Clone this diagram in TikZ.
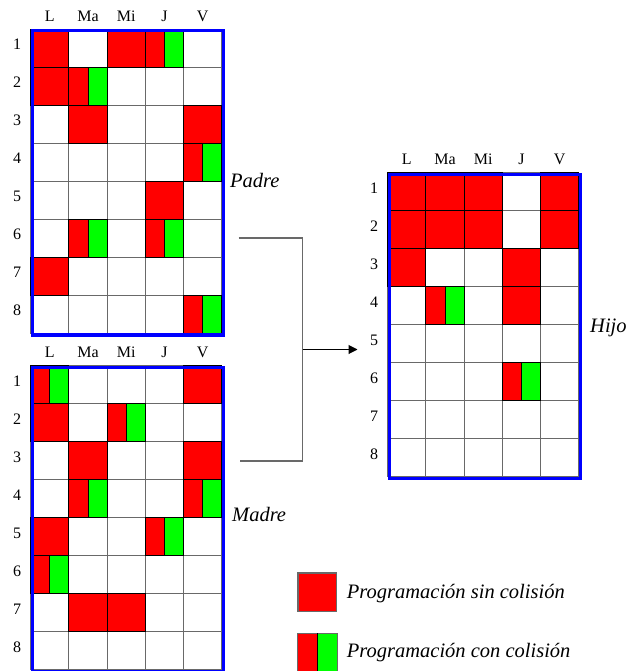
\documentclass[tikz,border=0pt]{standalone}
\usepackage{fontspec}
\setmainfont{Liberation Serif}
\usetikzlibrary{arrows.meta}
\definecolor{cred}{RGB}{255,0,0}
\definecolor{cgreen}{RGB}{0,255,0}
\definecolor{cblue}{RGB}{0,0,255}
\definecolor{lgray}{RGB}{105,105,105}
\tikzset{
 gridline/.style={draw=lgray, line width=0.9pt, fill=white},
 redcell/.style={draw=black, line width=0.9pt, fill=cred},
 cellline/.style={draw=black, line width=0.9pt},
 frame/.style={draw=cblue, line width=3.2pt, inner sep=0pt, minimum width=191pt, minimum height=304pt, anchor=north west},
 hdr/.style={font=\fontsize{16}{18}\selectfont, inner sep=0pt, anchor=base},
 lbl/.style={font=\fontsize{20.5}{24}\selectfont\itshape, inner sep=0pt, anchor=base west},
 bracket/.style={draw=lgray, line width=1.2pt},
 arrowline/.style={draw=black, line width=1pt, -{Triangle[length=9pt,width=9pt]}},
 legbox/.style={draw=lgray, line width=1.3pt, inner sep=0pt, minimum width=38.7pt, minimum height=38.7pt, anchor=north west},
}
\newcommand{\cw}{38.2}
\newcommand{\rh}{38}
% name, x0, y0, red cells (col/row), collision cells (col/row)
\newcommand{\schedgrid}[5]{%
 \begin{scope}[shift={(#2,#3)}]
  \foreach \c in {0,...,4}{\foreach \r in {0,...,7}{%
    \draw[gridline] ({\c*\cw},{\r*\rh}) rectangle ++(\cw,\rh);}}
  \foreach \c/\r in {#4}{%
    \draw[redcell] ({(\c-1)*\cw},{(\r-1)*\rh}) rectangle ++(\cw,\rh);}
  \foreach \c/\r in {#5}{%
    \fill[cred] ({(\c-1)*\cw},{(\r-1)*\rh}) rectangle ++({\cw/2},\rh);
    \fill[cgreen] ({(\c-0.5)*\cw},{(\r-1)*\rh}) rectangle ++({\cw/2},\rh);
    \draw[cellline] ({(\c-1)*\cw},{(\r-1)*\rh}) rectangle ++(\cw,\rh);
    \draw[cellline] ({(\c-0.5)*\cw},{(\r-1)*\rh}) -- ++(0,\rh);}
  \node[frame] (#1) at (0,0) {};
  \foreach \t [count=\i] in {L,Ma,Mi,J,V}{%
    \node[hdr] (#1-h\i) at ({(\i-0.5)*\cw},-8) {\t};}
  \foreach \i in {1,...,8}{%
    \node[hdr] (#1-r\i) at (-13.5,{(\i-1)*\rh+20.5}) {\i};}
 \end{scope}}
\begin{document}
\begin{tikzpicture}[x=1pt,y=-1pt]
\useasboundingbox (0,0) rectangle (627,671);
% Padre
\schedgrid{padre}{30.7}{29.3}{1/1,3/1,1/2,2/3,5/3,4/5,1/7}{4/1,2/2,5/4,2/6,4/6,5/8}
% Madre
\schedgrid{madre}{30.7}{365.5}{5/1,1/2,2/3,5/3,1/5,2/7,3/7}{1/1,3/2,2/4,5/4,4/5,1/6}
% Hijo
\schedgrid{hijo}{387.7}{172.7}{1/1,2/1,3/1,5/1,1/2,2/2,3/2,5/2,1/3,4/3,4/4}{2/4,4/6}
% labels
\node[lbl] (padrelbl) at (230,187.3) {Padre};
\node[lbl] (madrelbl) at (232,521) {Madre};
\node[lbl] (hijolbl) at (590,332.7) {Hijo};
% connector
\coordinate (pa) at (238.5,238);
\coordinate (ma) at (240,461);
\coordinate (jn) at (302.7,349.5);
\coordinate (tip) at (357.5,349.5);
\draw[bracket] (pa) -| (jn) |- (ma);
\draw[arrowline] (jn) -- (tip);
% legend
\node[legbox, fill=cred] (leg1) at (297.3,572.3) {};
\node[lbl] (leg1t) at (346.7,598.3) {Programación sin colisión};
\path node[legbox, draw=none] (leg2) at (297.3,633.3) {};
\fill[cred] (leg2.north west) rectangle (leg2.south);
\fill[cgreen] (leg2.south) rectangle (leg2.north east);
\draw[lgray, line width=1.3pt] (leg2.north west) rectangle (leg2.south east);
\draw[black, line width=1pt] (leg2.north) -- (leg2.south);
\node[lbl] (leg2t) at (346.7,657.7) {Programación con colisión};
\end{tikzpicture}
\end{document}
